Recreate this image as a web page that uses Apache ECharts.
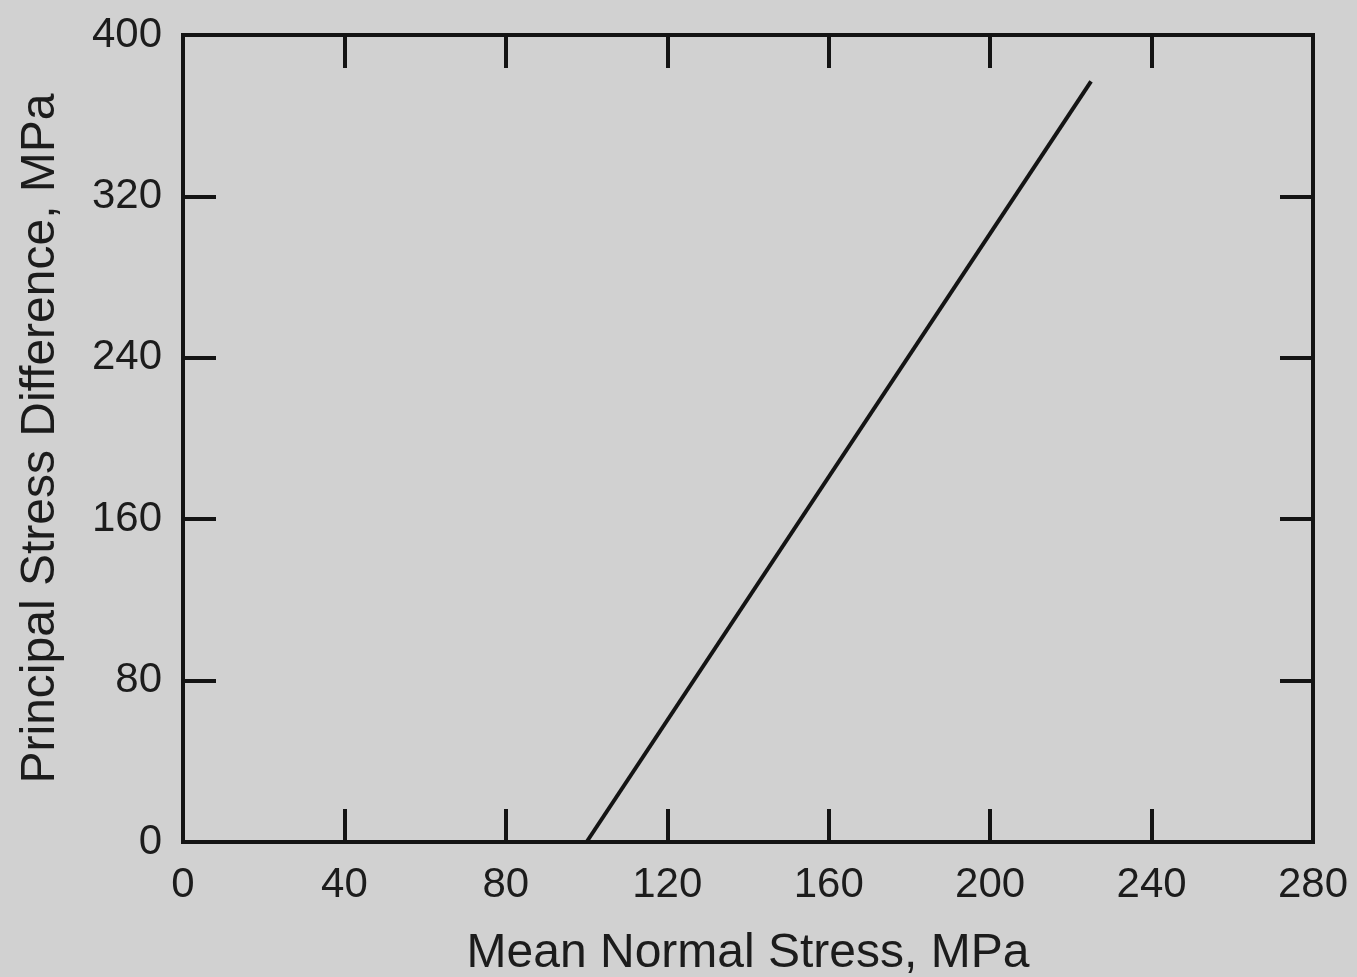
<!DOCTYPE html>
<html>
<head>
<meta charset="utf-8">
<title>Principal Stress Difference vs Mean Normal Stress</title>
<script src="https://cdn.jsdelivr.net/npm/echarts@6/dist/echarts.min.js"></script>
<style>
  html, body { margin: 0; padding: 0; background: #d1d1d1; }
  #chart { width: 1357px; height: 977px; }
</style>
</head>
<body>
<div id="chart"></div>
<script>
// Failure envelope: mean normal stress (MPa) vs principal stress difference (MPa)
const meanStress = [100, 225];
const stressDiff = [0, 377];

const xTitle = 'Mean Normal Stress, MPa';
const yTitle = 'Principal Stress Difference, MPa';

const textFont = '"Liberation Sans", Arial, Helvetica, sans-serif';
const ink = '#141414';

const points = meanStress.map((x, i) => [x, stressDiff[i]]);

const tickStyle = {
  show: true,
  inside: true,
  length: 33,
  lineStyle: { color: ink, width: 4 }
};

// Frame is drawn by the grid border; axis lines stay hidden and pinned to their sides
const hiddenLine = { show: false, onZero: false };

const chart = echarts.init(document.getElementById('chart'), null, { renderer: 'canvas' });

chart.setOption({
  backgroundColor: '#d1d1d1',
  animation: false,
  grid: {
    left: 183,
    right: 44,
    top: 35,
    bottom: 135,
    containLabel: false,
    outerBoundsMode: 'none',
    show: true,
    borderColor: ink,
    borderWidth: 4,
    backgroundColor: 'transparent'
  },
  xAxis: [
    {
      type: 'value',
      position: 'bottom',
      min: 0,
      max: 280,
      interval: 40,
      axisLine: hiddenLine,
      axisTick: tickStyle,
      splitLine: { show: false },
      axisLabel: {
        color: '#1c1c1c',
        fontFamily: textFont,
        fontSize: 42,
        margin: 22
      },
      name: xTitle,
      nameLocation: 'middle',
      nameGap: 88,
      nameTextStyle: {
        color: '#1c1c1c',
        fontFamily: textFont,
        fontSize: 48
      }
    },
    {
      type: 'value',
      position: 'top',
      min: 0,
      max: 280,
      interval: 40,
      axisLine: hiddenLine,
      axisTick: tickStyle,
      splitLine: { show: false },
      axisLabel: { show: false }
    }
  ],
  yAxis: [
    {
      type: 'value',
      position: 'left',
      min: 0,
      max: 400,
      interval: 80,
      axisLine: hiddenLine,
      axisTick: tickStyle,
      splitLine: { show: false },
      axisLabel: {
        color: '#1c1c1c',
        fontFamily: textFont,
        fontSize: 42,
        margin: 21
      },
      name: yTitle,
      nameLocation: 'middle',
      nameGap: 118,
      nameTextStyle: {
        color: '#1c1c1c',
        fontFamily: textFont,
        fontSize: 48
      }
    },
    {
      type: 'value',
      position: 'right',
      min: 0,
      max: 400,
      interval: 80,
      axisLine: hiddenLine,
      axisTick: tickStyle,
      splitLine: { show: false },
      axisLabel: { show: false }
    }
  ],
  series: [
    {
      type: 'line',
      xAxisIndex: 0,
      yAxisIndex: 0,
      data: points,
      showSymbol: false,
      symbol: 'none',
      lineStyle: { color: ink, width: 4 }
    }
  ]
});
</script>
</body>
</html>
